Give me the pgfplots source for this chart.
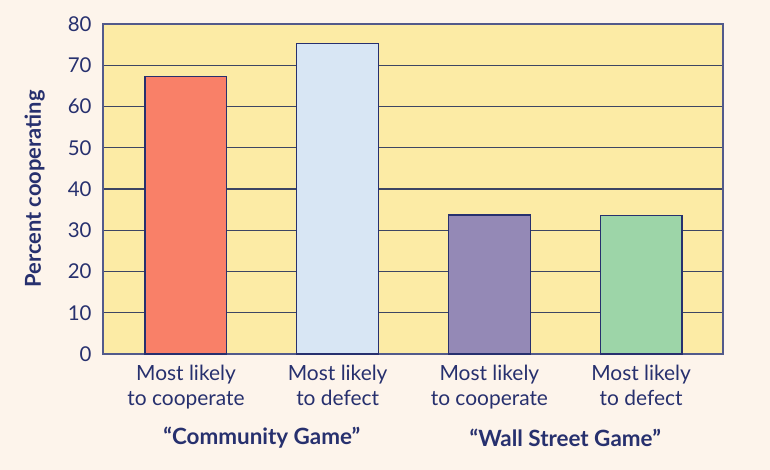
\documentclass[border=0pt]{standalone}
\usepackage{pgfplots}
\pgfplotsset{compat=1.18}
\usepackage{fontspec}
\setmainfont{Lato}
\definecolor{bg}{HTML}{FDF4EB}
\definecolor{plotbg}{HTML}{FCEBA5}
\definecolor{navy}{HTML}{27306E}
\definecolor{gridc}{HTML}{3D4563}
\definecolor{cred}{HTML}{F98068}
\definecolor{cblue}{HTML}{D8E6F4}
\definecolor{cpurple}{HTML}{9489B6}
\definecolor{cgreen}{HTML}{9DD5A8}
\begin{document}
\begin{tikzpicture}
\path[use as bounding box, fill=bg] (-103bp,-116bp) rectangle (667bp,354bp);
\begin{axis}[
  scale only axis,
  width=620bp, height=330bp,
  xmin=-0.547, xmax=3.54,
  ymin=0, ymax=80,
  ytick={0,10,...,80},
  xtick={0,1,2,3},
  xticklabels={Most likely\\to cooperate, Most likely\\to defect, Most likely\\to cooperate, Most likely\\to defect},
  xticklabel style={align=center, font=\fontsize{21}{25}\selectfont, text=navy, yshift=-8bp},
  yticklabel style={font=\fontsize{20.5}{22}\selectfont, text=navy, xshift=-8bp},
  /pgf/number format/assume math mode=true,
  major tick length=0pt,
  ymajorgrids,
  grid style={gridc, line width=1.4bp},
  axis line style={navy!80, line width=1.3bp},
  axis background/.style={fill=plotbg},
  ylabel={\textbf{Percent cooperating}},
  ylabel style={font=\fontsize{22}{24}\selectfont, text=navy, at={(axis description cs:-0.110,0.5)}, rotate=0, anchor=center},
  clip=false,
]
\addplot[ybar, bar width=0.54, fill=cred, draw=navy, line width=1.1bp] coordinates {(0,67.2)};
\addplot[ybar, bar width=0.54, fill=cblue, draw=navy, line width=1.1bp] coordinates {(1,75.2)};
\addplot[ybar, bar width=0.54, fill=cpurple, draw=navy, line width=1.1bp] coordinates {(2,33.7)};
\addplot[ybar, bar width=0.54, fill=cgreen, draw=navy, line width=1.1bp] coordinates {(3,33.5)};
\node[font=\fontsize{22.5}{24}\selectfont\bfseries, text=navy] at (axis cs:0.5,0) [yshift=-84bp] {“Community Game”};
\node[font=\fontsize{22.5}{24}\selectfont\bfseries, text=navy] at (axis cs:2.5,0) [yshift=-84bp] {“Wall Street Game”};
\end{axis}
\end{tikzpicture}
\end{document}
